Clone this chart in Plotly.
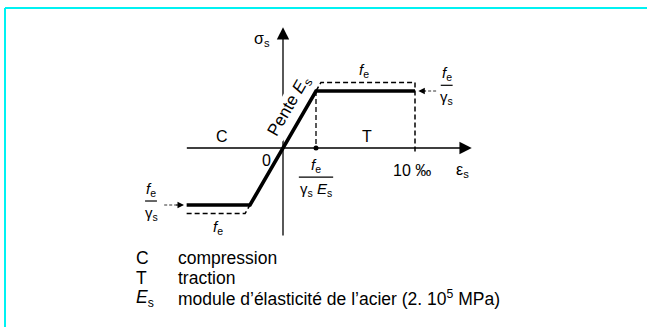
import plotly.graph_objects as go

W, H = 647, 327
FONT = "Liberation Sans, Arial, sans-serif"

# schematic values: strain in ‰, stress in units of fe/γs
eps_min = -7.3      # end of the compression branch as drawn
eps_yield = 2.5     # fe / (γs Es)
eps_ult = 10.0      # 10 ‰
f_su = 1.0          # fe / γs  (design plateau)
f_e = 1.15          # fe       (characteristic plateau)

design_eps = [eps_min, -eps_yield, eps_yield, eps_ult]
design_sig = [-f_su, -f_su, f_su, f_su]

char_top_eps = [eps_yield, eps_yield * f_e / f_su, eps_ult, eps_ult, eps_ult]
char_top_sig = [f_su, f_e, f_e, 0.0, -0.08]
char_bot_eps = [eps_min, -eps_yield * f_e / f_su, -eps_yield]
char_bot_sig = [-f_e, -f_e, -f_su]

yield_eps = [eps_yield, eps_yield]
yield_sig = [f_su, 0.0]

axis_eps = [-7.4, 14.3]
axis_sig = [-1.56, 2.12]

# pixel mapping of the drawing (origin in px, px per unit)
X0, Y0, SX, SY = 283, 148, 13.2, 57

fig = go.Figure()
fig.add_scatter(x=design_eps, y=design_sig, mode="lines",
                line=dict(color="black", width=3.6))
fig.add_scatter(x=char_top_eps, y=char_top_sig, mode="lines",
                line=dict(color="black", width=1.5, dash="5px,3px"))
fig.add_scatter(x=char_bot_eps, y=char_bot_sig, mode="lines",
                line=dict(color="black", width=1.5, dash="5px,3px"))
fig.add_scatter(x=yield_eps, y=yield_sig, mode="lines",
                line=dict(color="black", width=1.3, dash="5px,3px"))
fig.add_scatter(x=[eps_yield], y=[0], mode="markers",
                marker=dict(color="black", size=5))

# small dotted pointers to fe/γs
fig.add_scatter(x=[11.6, eps_ult + 0.6], y=[f_su, f_su], mode="lines",
                line=dict(color="#333", width=1, dash="3px,2px"))
fig.add_scatter(x=[-9.0, eps_min - 0.6], y=[-f_su, -f_su], mode="lines",
                line=dict(color="#333", width=1, dash="3px,2px"))

ann = []


def arrow(x, y, ax, ay, w=1.3, size=1.4, head=2):
    ann.append(dict(x=x, y=y, ax=ax, ay=ay, xref="x", yref="y", axref="x", ayref="y",
                    text="", showarrow=True, arrowhead=head, arrowsize=size,
                    arrowwidth=w, arrowcolor="black", standoff=0))


arrow(axis_eps[1], 0, axis_eps[0], 0, size=1.9)
arrow(0, axis_sig[1], 0, axis_sig[0], size=1.9)
arrow(eps_ult + 0.25, f_su, eps_ult + 0.9, f_su, w=1, size=1.3)
arrow(eps_min - 0.2, -f_su, eps_min - 0.9, -f_su, w=1, size=1.3)


def txt(x, y, s, size=15, **kw):
    d = dict(x=x, y=y, xref="x", yref="y", text=s, showarrow=False,
             font=dict(family=FONT, size=size, color="black"))
    d.update(kw)
    ann.append(d)


FE = "<i>f</i><sub>e</sub>"
GS = "γ<sub>s</sub>"
ES = "<i>E</i><sub>s</sub>"

txt(0, 1.9, "σ<sub>s</sub>", xshift=-21, size=16)
txt((eps_yield * f_e + eps_ult) / 2 - 0.3, f_e, FE, yanchor="bottom", yshift=0)
txt(-4.9, -f_e, FE, yanchor="top", yshift=-2)
txt(-4.6, 0, "C", yanchor="bottom", yshift=1, size=16)
txt(6.4, 0, "T", yanchor="bottom", yshift=1, size=16)
txt(0, 0, "0", xanchor="right", yanchor="top", xshift=-10, yshift=-2, size=16)
txt(eps_ult - 0.2, 0, "10 ‰", yanchor="top", yshift=-12, size=16)
txt(13.6, 0, "ε<sub>s</sub>", yanchor="top", yshift=-11, size=16)
txt(0.9, 0.74, "Pente " + ES, size=17, textangle=-60, bgcolor="white", borderpad=0,
    xshift=-5)

# fractions
fracs = [(12.4, 1.1, 0.9, GS), (-10.0, -0.93, 0.9, GS), (eps_yield, -0.51, 2.6, GS + " " + ES)]
shapes = []
for fx, fy, half, den in fracs:
    shapes.append(dict(type="line", xref="x", yref="y", x0=fx - half / 2, x1=fx + half / 2,
                       y0=fy, y1=fy, line=dict(color="black", width=1.2)))
    txt(fx, fy, FE, yanchor="bottom", yshift=0)
    txt(fx, fy, den, yanchor="top", yshift=-1)

# explanation lines under the diagram
legend = [("C", "compression"), ("T", "traction"),
          ("<i>E</i><sub>s</sub>", "module d’élasticité de l’acier (2. 10<sup>5</sup> MPa)")]
for i, (k, v) in enumerate(legend):
    yp = 1 - (258 + 20 * i) / H
    for xp, s in ((134, k), (176, v)):
        ann.append(dict(x=xp / W, y=yp, xref="paper", yref="paper", text=s, showarrow=False,
                        xanchor="left", yanchor="middle",
                        font=dict(family=FONT, size=17.5, color="black")))

# cyan frame
shapes += [
    dict(type="line", xref="paper", yref="paper", x0=5 / W, x1=1, y0=1 - 8 / H, y1=1 - 8 / H,
         line=dict(color="#00F2F2", width=2)),
    dict(type="line", xref="paper", yref="paper", x0=5 / W, x1=5 / W, y0=0, y1=1 - 8 / H,
         line=dict(color="#00F2F2", width=2)),
]

fig.update_layout(
    width=W, height=H, margin=dict(l=0, r=0, t=0, b=0),
    paper_bgcolor="white", plot_bgcolor="white", showlegend=False,
    xaxis=dict(range=[-X0 / SX, (W - X0) / SX], visible=False, fixedrange=True),
    yaxis=dict(range=[-(H - Y0) / SY, Y0 / SY], visible=False, fixedrange=True),
    annotations=ann, shapes=shapes,
)
fig.write_html("out.html", config={"displayModeBar": False},
               post_script="document.body.style.margin='0';document.body.style.overflow='hidden';")
